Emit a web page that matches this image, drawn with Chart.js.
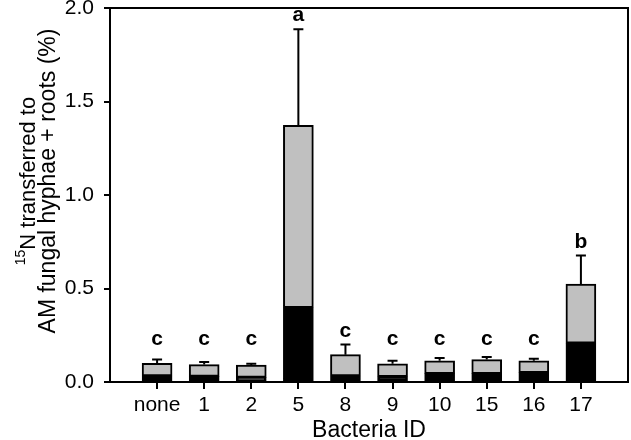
<!DOCTYPE html>
<html>
<head>
<meta charset="utf-8">
<script src="https://cdn.jsdelivr.net/npm/chart.js@4.4.1/dist/chart.umd.min.js"></script>
<style>
  html, body { margin: 0; padding: 0; background: #fff; }
  #wrap { width: 631px; height: 440px; }
</style>
</head>
<body>
<div id="wrap"><canvas id="chart"></canvas></div>
<script>
// --- Dados ---
const categories = ['none', '1', '2', '5', '8', '9', '10', '15', '16', '17'];
const blackPart  = [0.032, 0.030, 0.025, 0.397, 0.032, 0.028, 0.045, 0.045, 0.050, 0.207];
const totalValue = [0.100, 0.093, 0.090, 1.373, 0.146, 0.097, 0.113, 0.120, 0.113, 0.524];
const errorTop   = [0.120, 0.107, 0.098, 1.887, 0.200, 0.114, 0.129, 0.134, 0.125, 0.676];
const letters    = ['c', 'c', 'c', 'a', 'c', 'c', 'c', 'c', 'c', 'b'];
const yTickValues = [0, 0.5, 1.0, 1.5, 2.0];

const FONT = '"Liberation Sans", Arial, sans-serif';

// Barras de erro + letras de significância
const errorBars = {
    id: 'errorBars',
    afterDatasetsDraw(chart) {
        const { ctx, scales: { x, y } } = chart;
        ctx.save();
        ctx.strokeStyle = '#000';
        ctx.lineWidth = 2;
        ctx.fillStyle = '#000';
        ctx.font = 'bold 21px ' + FONT;
        ctx.textAlign = 'center';
        ctx.textBaseline = 'alphabetic';
        categories.forEach((c, i) => {
            const px = x.getPixelForValue(i);
            const yBar = y.getPixelForValue(totalValue[i]);
            const yErr = y.getPixelForValue(errorTop[i]);
            ctx.beginPath();
            ctx.moveTo(px, yBar);
            ctx.lineTo(px, yErr);
            ctx.moveTo(px - 5, yErr);
            ctx.lineTo(px + 5, yErr);
            ctx.stroke();
            const base = Math.min(yErr - 8, y.getPixelForValue(0.2));
            ctx.fillText(letters[i], px, base);
        });
        ctx.restore();
    }
};

// Moldura (topo e direita) + títulos dos eixos
const frameAndTitles = {
    id: 'frameAndTitles',
    afterDraw(chart) {
        const { ctx, chartArea: a } = chart;
        ctx.save();
        ctx.strokeStyle = '#000';
        ctx.lineWidth = 2;
        ctx.beginPath();
        ctx.moveTo(a.left, a.top);
        ctx.lineTo(a.right, a.top);
        ctx.lineTo(a.right, a.bottom);
        ctx.stroke();

        ctx.fillStyle = '#000';
        ctx.textBaseline = 'alphabetic';

        // Título eixo X
        ctx.font = '23px ' + FONT;
        ctx.textAlign = 'center';
        ctx.fillText('Bacteria ID', (a.left + a.right) / 2, 437);

        // Título eixo Y (duas linhas, com sobrescrito)
        const cy = 181;
        ctx.textAlign = 'left';
        ctx.save();
        ctx.translate(35, cy);
        ctx.rotate(-Math.PI / 2);
        ctx.font = '14px ' + FONT;
        const wSup = ctx.measureText('15').width;
        ctx.font = '22px ' + FONT;
        const wMain = ctx.measureText('N transferred to').width;
        let sx = -(wSup + wMain) / 2;
        ctx.font = '14px ' + FONT;
        ctx.fillText('15', sx, -10);
        ctx.font = '22px ' + FONT;
        ctx.fillText('N transferred to', sx + wSup, 0);
        ctx.restore();

        ctx.save();
        ctx.translate(55, cy);
        ctx.rotate(-Math.PI / 2);
        ctx.font = '23px ' + FONT;
        ctx.textAlign = 'center';
        ctx.fillText('AM fungal hyphae + roots (%)', 0, 0);
        ctx.restore();

        ctx.restore();
    }
};

new Chart(document.getElementById('chart'), {
    type: 'bar',
    data: {
        datasets: [
            {
                label: 'lower',
                data: categories.map((c, i) => ({ x: i, y: [0, blackPart[i]] })),
                backgroundColor: '#000',
                borderColor: '#000',
                borderWidth: 2,
                borderSkipped: false,
                barThickness: 30,
                grouped: false
            },
            {
                label: 'upper',
                data: categories.map((c, i) => ({ x: i, y: [blackPart[i], totalValue[i]] })),
                backgroundColor: '#c0c0c0',
                borderColor: '#000',
                borderWidth: 2,
                borderSkipped: false,
                barThickness: 30,
                grouped: false
            }
        ]
    },
    options: {
        responsive: true,
        maintainAspectRatio: false,
        animation: false,
        events: [],
        layout: { padding: { left: 0, right: 3, top: 8, bottom: 0 } },
        plugins: { legend: { display: false }, tooltip: { enabled: false } },
        scales: {
            x: {
                type: 'linear',
                offset: false,
                min: -1,
                max: 10,
                afterBuildTicks: (s) => { s.ticks = categories.map((c, i) => ({ value: i })); },
                afterFit: (s) => { s.height = 58; s.paddingLeft = 0; s.paddingRight = 0; },
                ticks: {
                    callback: (v) => categories[v],
                    font: { family: FONT, size: 21 },
                    color: '#000',
                    padding: 4,
                    maxRotation: 0,
                    autoSkip: false
                },
                grid: { offset: false, drawOnChartArea: false, drawTicks: true, tickLength: 7, color: '#000', lineWidth: 2 },
                border: { color: '#000', width: 2 }
            },
            y: {
                min: 0,
                max: 2,
                afterBuildTicks: (s) => { s.ticks = yTickValues.map(v => ({ value: v })); },
                afterFit: (s) => { s.width = 110; s.paddingTop = 0; s.paddingBottom = 0; },
                ticks: {
                    callback: (v) => v.toFixed(1),
                    font: { family: FONT, size: 21 },
                    color: '#000',
                    padding: 10
                },
                grid: { drawOnChartArea: false, drawTicks: true, tickLength: 6, color: '#000', lineWidth: 2 },
                border: { color: '#000', width: 2 }
            }
        }
    },
    plugins: [errorBars, frameAndTitles]
});
</script>
</body>
</html>
